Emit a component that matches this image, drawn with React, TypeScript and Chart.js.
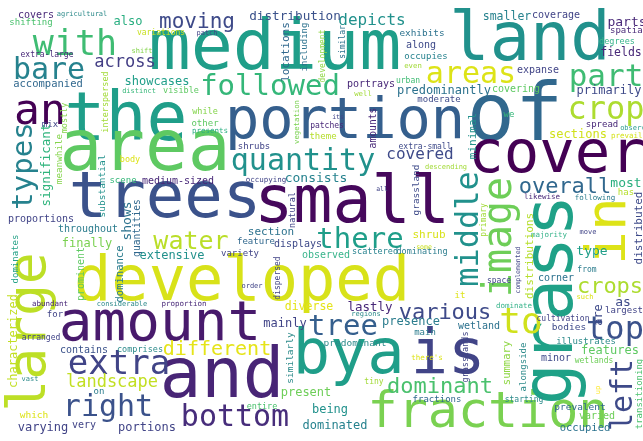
import React, { useEffect, useRef } from "react";
import { Chart, registerables } from "chart.js";

Chart.register(...registerables);

// [word, centerX, centerY (x-height middle), fontSize, colour, vertical(1)]
type W = [string, number, number, number, string, number?];

const bigWords: W[] = [
  ["medium", 275, 50, 70, "#1f9e89"],
  ["land", 530, 42, 67, "#21918c"],
  ["the", 126, 121, 68, "#1f9e89"],
  ["portion", 345, 122, 57, "#355f8d"],
  ["of", 515, 118, 80, "#31688e"],
  ["cover", 557, 156, 59, "#440154"],
  ["area", 145, 151, 71, "#5ec962"],
  ["trees", 165, 200, 64, "#3b528b"],
  ["small", 352, 204, 65, "#46085c"],
  ["developed", 242, 283, 62, "#d8e219"],
  ["large", 31, 332, 53, "#bddf26", 1],
  ["amount", 160, 325, 56, "#481a6c"],
  ["and", 222, 378, 69, "#482576"],
  ["by", 330, 356, 62, "#1f9e89"],
  ["a", 386, 356, 62, "#1f9e89"],
  ["is", 448, 356, 62, "#414487"],
  ["fraction", 488, 413, 50, "#7ad151"],
  ["grass", 553, 300, 70, "#1fa187", 1],
  ["in", 610, 231, 56, "#dde318", 1],
  ["image", 500, 237, 40, "#6ece58", 1],
  ["middle", 469, 229, 32, "#21918c", 1],
];

const midWords: W[] = [
  ["with", 75, 45, 35, "#3fbc73"],
  ["bare", 49, 71, 30, "#26828e"],
  ["an", 40, 112, 43, "#440154"],
  ["areas", 471, 75, 30, "#dde318"],
  ["part", 606, 78, 31, "#3fbc73"],
  ["crop", 606, 110, 32, "#addc30"],
  ["quantity", 303, 162, 30, "#21918c"],
  ["followed", 270, 87, 29, "#35b779"],
  ["types", 24, 166, 29, "#26828e", 1],
  ["top", 615, 330, 32, "#3b528b"],
  ["left", 624, 395, 30, "#3e4a89", 1],
  ["bottom", 235, 418, 30, "#472d7b"],
  ["right", 108, 408, 30, "#3b528b"],
  ["extra", 119, 365, 34, "#414487"],
  ["tree", 343, 327, 29, "#355f8d"],
  ["various", 445, 313, 22, "#3e4a89"],
  ["dominant", 440, 387, 22, "#4ac16d"],
  ["different", 217, 350, 20, "#e5e419"],
  ["landscape", 112, 382, 17, "#c2df23"],
  ["water", 191, 242, 25, "#bade28"],
  ["there", 360, 240, 29, "#1f9e89"],
  ["overall", 565, 187, 22, "#31688e"],
  ["crops", 610, 287, 22, "#addc30"],
  ["to", 521, 323, 36, "#d0e11c"],
  ["across", 125, 62, 17, "#433e85"],
  ["moving", 197, 22, 21, "#3e4a89"],
  ["depicts", 372, 21, 16, "#21918c"],
  ["covered", 420, 155, 16, "#3e4a89"],
  ["showcases", 157, 82, 12, "#1f9e89"],
  ["distribution", 295, 17, 12.7, "#3b528b"],
  ["consists", 316, 178, 13, "#26828e"],
];

const smallTop: W[] = [
  ["covers", 36, 15, 10, "#482878"],
  ["agricultural", 82, 14, 7, "#2c8a8a"],
  ["shifting", 31, 23, 9, "#4ac16d"],
  ["also", 128, 22, 12, "#28ae80"],
  ["variations", 161, 33, 8, "#c8e020"],
  ["shift", 142, 51, 7, "#84d44b"],
  ["extra-large", 47, 55, 8, "#482878"],
  ["accompanied", 48, 84, 10.5, "#31688e"],
  ["interspersed", 106, 102, 8.5, "#a2da37", 1],
  ["distinct", 139, 91, 7, "#35b779"],
  ["visible", 181, 91, 8.5, "#5ec962"],
  ["mix", 50, 125, 9, "#414487"],
  ["mostly", 65, 118, 8.5, "#84d44b", 1],
  ["significant", 47, 165, 12.5, "#2fb47c", 1],
  ["meanwhile", 59, 159, 9.3, "#84d44b", 1],
  ["patch", 207, 33, 7, "#414487"],
  ["locations", 286, 52, 11, "#31688e", 1],
  ["including", 305, 47, 9, "#2c728e", 1],
  ["development", 323, 56, 8, "#8fd744", 1],
  ["while", 205, 112, 8.5, "#84d44b"],
  ["other", 205, 124, 9, "#5ec962"],
  ["presents", 210, 131, 7.5, "#28ae80"],
  ["vegetation", 297, 122, 7.3, "#7ad151", 1],
  ["patches", 327, 126, 8, "#482878"],
  ["theme", 323, 137, 9, "#b5de2b"],
  ["shrubs", 254, 147, 9, "#414487"],
  ["exhibits", 422, 33, 9.4, "#2c728e"],
  ["similar", 343, 42, 8, "#2c728e", 1],
  ["smaller", 507, 17, 11.5, "#26828e"],
  ["occupies", 426, 57, 9, "#26828e"],
  ["along", 421, 45, 10, "#3e4a89"],
  ["even", 413, 66, 7.3, "#a2da37"],
  ["portrays", 371, 84, 10, "#482878"],
  ["urban", 408, 81, 8, "#3fbc73"],
  ["predominantly", 444, 91, 12, "#2c728e"],
  ["covering", 516, 89, 10, "#5ec962"],
  ["well", 363, 94, 7.3, "#a2da37"],
  ["moderate", 439, 100, 9, "#3e4a89"],
  ["its", 338, 117, 6.5, "#414487"],
  ["amounts", 373, 128, 9.7, "#482878", 1],
  ["minimal", 473, 136, 11, "#21918c", 1],
  ["extra-small", 425, 147, 8, "#3e4a89"],
  ["coverage", 556, 15, 10, "#414487"],
  ["parts", 627, 22, 13, "#482878"],
  ["spatial", 629, 31, 9, "#482878"],
  ["degrees", 617, 42, 8.5, "#38b48b"],
  ["fields", 621, 53, 11.5, "#482878"],
  ["expanse", 538, 70, 10, "#414487"],
  ["primarily", 609, 91, 12, "#3e4a89"],
  ["we", 509, 115, 9, "#35b779"],
  ["sections", 578, 135, 12, "#d0e11c"],
  ["spread", 602, 125, 9, "#482878"],
  ["observed", 637, 128, 7, "#2a9d8f"],
  ["prevails", 629, 136, 7.5, "#d5e21a"],
];

const smallMiddle: W[] = [
  ["substantial", 102, 186, 9.5, "#21918c", 1],
  ["body", 130, 160, 8.5, "#dde318"],
  ["scene", 123, 181, 9, "#35b779"],
  ["medium-sized", 178, 181, 10, "#482878"],
  ["proportions", 41, 219, 10, "#414487"],
  ["throughout", 88, 229, 10, "#2c7d8e"],
  ["shows", 127, 221, 13, "#2c728e", 1],
  ["quantities", 137, 228, 9.6, "#31688e", 1],
  ["finally", 87, 244, 12, "#7ad151"],
  ["dominates", 16, 259, 9, "#26a287", 1],
  ["prominent", 81, 274, 10, "#5ec962", 1],
  ["dominance", 120, 274, 10.5, "#2c7d8e", 1],
  ["extensive", 172, 256, 12, "#21918c"],
  ["occupying", 266, 180, 7.5, "#414487"],
  ["natural", 293, 210, 8.5, "#414487", 1],
  ["section", 271, 232, 11, "#2c728e"],
  ["feature", 256, 242, 9, "#31688e"],
  ["displays", 298, 244, 10, "#3e4a89"],
  ["variety", 240, 254, 9, "#414487"],
  ["observed", 326, 255, 10, "#38b48b"],
  ["dispersed", 278, 278, 8, "#414487", 1],
  ["order", 252, 286, 7, "#414487"],
  ["scattered", 375, 252, 8.5, "#26828e"],
  ["dominating", 422, 252, 8.5, "#2c7d8e"],
  ["descending", 446, 167, 7, "#a2da37"],
  ["all", 382, 189, 6.5, "#414487"],
  ["grassland", 416, 190, 9.4, "#3e4a89", 1],
  ["shrub", 429, 235, 11, "#d8e219"],
  ["some", 424, 247, 6.5, "#c8e020"],
  ["primary", 484, 220, 8, "#a2da37", 1],
  ["likewise", 542, 197, 7.5, "#482878"],
  ["following", 595, 198, 7.5, "#2c7d8e"],
  ["most", 626, 183, 13, "#29af7f"],
  ["has", 626, 193, 9, "#b5de2b"],
  ["distributed", 639, 228, 11, "#3e4a89", 1],
  ["distributions", 530, 256, 11, "#b5de2b", 1],
  ["majority", 549, 235, 7.5, "#38b48b"],
  ["type", 592, 251, 13, "#1f9e89"],
  ["move", 588, 232, 7, "#414487"],
  ["complemented", 518, 270, 6.5, "#414487", 1],
  ["corner", 556, 278, 10, "#2c728e"],
  ["from", 587, 270, 8, "#2c7d8e"],
  ["space", 499, 281, 8, "#414487"],
];

const smallBottom: W[] = [
  ["abundant", 50, 304, 7.5, "#482878"],
  ["considerable", 122, 304, 7, "#2c8a8a"],
  ["proportion", 184, 304, 7.5, "#482878"],
  ["characterized", 14, 341, 12, "#c2df23", 1],
  ["for", 55, 315, 9, "#414487"],
  ["arranged", 41, 338, 8, "#414487"],
  ["contains", 84, 350, 10, "#3b528b"],
  ["comprises", 140, 350, 8.5, "#2c8a8a"],
  ["vast", 30, 379, 7, "#2c8a8a"],
  ["on", 99, 392, 9, "#2c7d8e"],
  ["which", 34, 415, 9.5, "#dde318"],
  ["varying", 43, 428, 12, "#414487"],
  ["very", 84, 425, 10, "#414487"],
  ["portions", 147, 428, 12, "#414487"],
  ["diverse", 309, 307, 11.5, "#e5e419"],
  ["mainly", 285, 324, 12, "#414487"],
  ["similarly", 290, 358, 9.5, "#2c8a8a", 1],
  ["entire", 262, 407, 8.5, "#4ac16d"],
  ["present", 306, 393, 12, "#6ece58"],
  ["being", 330, 410, 12, "#21918c"],
  ["dominated", 335, 426, 12, "#26828e"],
  ["lastly", 370, 308, 12.5, "#482878"],
  ["it", 460, 296, 9, "#dde318"],
  ["regions", 366, 314, 7, "#2c8a8a"],
  ["presence", 411, 322, 12, "#2c7d8e"],
  ["wetland", 479, 326, 10, "#2c728e"],
  ["main", 425, 333, 9, "#2c7d8e"],
  ["predominant", 355, 343, 9.5, "#2c8a8a"],
  ["grasslands", 466, 357, 8.5, "#414487", 1],
  ["there's", 427, 358, 7.5, "#dde318"],
  ["tiny", 374, 382, 8, "#a2da37"],
  ["fractions", 437, 400, 9, "#31688e"],
  ["such", 585, 297, 7, "#dde318"],
  ["dominate", 514, 306, 7.5, "#38b48b"],
  ["are", 599, 315, 12, "#3e4a89", 1],
  ["as", 623, 302, 13, "#3e4a89"],
  ["largest", 624, 311, 9, "#414487"],
  ["cultivation", 563, 319, 8, "#414487"],
  ["bodies", 569, 327, 9.5, "#3e4a89"],
  ["illustrates", 586, 342, 9, "#2c8a8a"],
  ["summary", 507, 363, 10.5, "#8fd744", 1],
  ["alongside", 524, 367, 9, "#2c8a8a", 1],
  ["features", 610, 351, 12, "#5ec962"],
  ["minor", 556, 358, 10, "#3e4a89"],
  ["wetlands", 594, 361, 8, "#6ece58"],
  ["transitioning", 640, 394, 9, "#4ac16d", 1],
  ["up", 598, 390, 7, "#fde725", 1],
  ["starting", 524, 400, 8, "#2c8a8a"],
  ["prevalent", 580, 407, 9.5, "#31688e"],
  ["varied", 597, 416, 10, "#6ece58"],
  ["occupied", 585, 428, 10.5, "#2c728e"],
];

const WIDTH = 643;
const HEIGHT = 441;
const FONT = '"DejaVu Sans Mono", "Liberation Mono", monospace';

const allWords: W[] = [...bigWords, ...midWords, ...smallTop, ...smallMiddle, ...smallBottom];

const wordPlugin = {
  id: "wordText",
  afterDatasetsDraw(chart: any) {
    const ctx = chart.ctx as CanvasRenderingContext2D;
    const meta = chart.getDatasetMeta(0);
    meta.data.forEach((pt: any, i: number) => {
      const w = allWords[i];
      if (!w) return;
      const [text, , , size, color, vertical] = w;
      ctx.save();
      ctx.translate(pt.x, pt.y);
      if (vertical) ctx.rotate(-Math.PI / 2);
      ctx.font = `${size}px ${FONT}`;
      ctx.fillStyle = color;
      ctx.textAlign = "center";
      ctx.textBaseline = "alphabetic";
      ctx.fillText(text, 0, size * 0.273);
      ctx.restore();
    });
  },
};

export default function App() {
  const ref = useRef<HTMLCanvasElement | null>(null);
  useEffect(() => {
    document.body.style.margin = "0";
    const canvas = ref.current;
    if (!canvas) return;
    const chart = new Chart(canvas, {
      type: "scatter",
      data: {
        datasets: [
          {
            data: allWords.map((w) => ({ x: w[1], y: w[2] })),
            pointRadius: 0,
            pointHoverRadius: 0,
          },
        ],
      },
      options: {
        responsive: false,
        animation: false,
        events: [],
        layout: { padding: 0 },
        plugins: { legend: { display: false }, tooltip: { enabled: false } },
        scales: {
          x: { type: "linear", min: 0, max: WIDTH, display: false },
          y: { type: "linear", min: 0, max: HEIGHT, reverse: true, display: false },
        },
      },
      plugins: [wordPlugin],
    });
    return () => chart.destroy();
  }, []);
  return (
    <div style={{ width: WIDTH, height: HEIGHT, background: "#ffffff" }}>
      <canvas ref={ref} width={WIDTH} height={HEIGHT} style={{ display: "block" }} />
    </div>
  );
}
